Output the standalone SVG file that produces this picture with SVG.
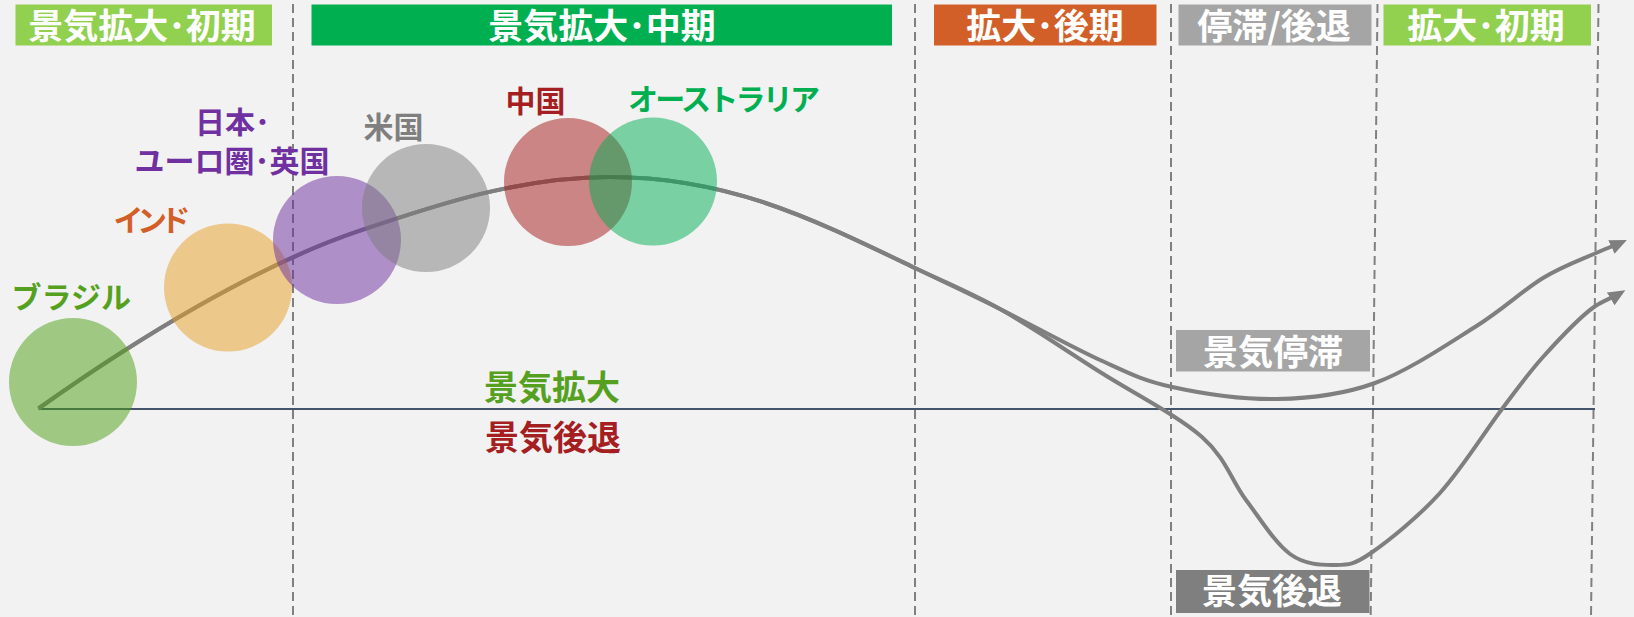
<svg xmlns="http://www.w3.org/2000/svg" width="1634" height="617" viewBox="0 0 1634 617">
<defs>
<style>
.t{font-family:"Noto Sans CJK JP","Noto Sans CJK SC",sans-serif;font-weight:bold;text-anchor:middle}
.h{font-size:35px;fill:#FFFFFF}
.s{font-size:30px}
.m{font-size:34px}
.dash{stroke:#808080;stroke-width:2;stroke-dasharray:9 5;fill:none}
.curve{fill:none;stroke:#7F7F7F;stroke-width:4;marker-end:url(#arrow)}
.c{opacity:0.5}
</style>
<marker id="arrow" markerUnits="userSpaceOnUse" markerWidth="17" markerHeight="15" refX="12" refY="7.5" orient="auto">
<path d="M0,0 L17,7.5 L0,15 z" fill="#7F7F7F"/>
</marker>
</defs>
<rect x="0" y="0" width="1634" height="617" fill="#F2F2F2"/>

<g id="grid">
<line class="dash" x1="293" y1="4" x2="293" y2="617"/>
<line class="dash" x1="915" y1="4" x2="915" y2="617"/>
<line class="dash" x1="1171" y1="4" x2="1171" y2="617"/>
<line class="dash" x1="1377.5" y1="4" x2="1370.7" y2="617"/>
<line class="dash" x1="1598.5" y1="4" x2="1591" y2="617"/>
<line x1="38.5" y1="409" x2="1595" y2="409" stroke="#44546A" stroke-width="2"/>
</g>

<g id="connectors">
<path class="curve" d="M38.5,408.5 C138.5,337.5 257,265.7 357,231.7 C437,204.5 520,177 610,177 C730,177 815,220 915,268 C940,280.05 969.2,293.7 1000,309 C1030.8,324.3 1071.5,347.05 1100,360 C1128.5,372.95 1141.5,380.2 1171,386.7 C1200.5,393.2 1243,399.6 1277,399 C1311,398.4 1342,395 1375,383 C1408,371 1447,344.5 1475,327 C1503,309.5 1522.8,290.3 1543,278 C1563.2,265.7 1582.2,259.3 1596,253 C1605,248.9 1613.3,246.2 1622.3,242"/>
<path class="curve" d="M38.5,408.5 C138.5,337.5 257,265.7 357,231.7 C437,204.5 520,177 610,177 C730,177 815,220 915,268 C940,280.05 969.2,291.7 1000,309 C1030.8,326.3 1066.3,350.7 1100,372 C1133.7,393.3 1177.7,415.7 1202,437 C1226.3,458.3 1231.3,480.5 1246,500 C1260.7,519.5 1275.2,543.2 1290,554 C1304.8,564.8 1321.5,565.2 1335,565 C1348.5,564.8 1353.5,565 1371,553 C1388.5,541 1418.2,517 1440,493 C1461.8,469 1484.8,431.7 1502,409 C1519.2,386.3 1527.7,374 1543,357 C1558.3,340 1580.5,316.5 1594,307 C1603,300.7 1612,298.1 1621,292.7"/>
</g>

<g id="node-brazil">
<circle class="c" cx="73" cy="382" r="64" fill="#4CA014"/>
<text class="t s" x="71.3" y="308" fill="#55A11F">ブラジル</text>
</g>
<g id="node-india">
<circle class="c" cx="228" cy="287.5" r="64" fill="#E69E24"/>
<text class="t s" x="152" y="231" fill="#D35F28" textLength="77" lengthAdjust="spacing">インド</text>
</g>
<g id="node-japan-euro-uk">
<circle class="c" cx="337" cy="240" r="64" fill="#6A2C9E"/>
<text class="t s" x="232.5" y="133" fill="#7030A0">日本･</text>
<text class="t s" x="232" y="172" fill="#7030A0">ユーロ圏･英国</text>
</g>
<g id="node-us">
<circle class="c" cx="426" cy="208" r="64" fill="#7C7C7C"/>
<text class="t s" x="393.5" y="137.5" fill="#7F7F7F">米国</text>
</g>
<g id="node-china">
<circle class="c" cx="568" cy="182" r="64" fill="#A41818"/>
<text class="t s" x="535.5" y="111.5" fill="#A51E22">中国</text>
</g>
<g id="node-australia">
<circle class="c" cx="653" cy="181.5" r="64" fill="#00AE52"/>
<text class="t s" x="724" y="110" fill="#00B050" textLength="192" lengthAdjust="spacing">オーストラリア</text>
</g>

<g id="label-expansion">
<text class="t m" x="552" y="399.5" fill="#55A11F">景気拡大</text>
</g>
<g id="label-recession">
<text class="t m" x="553" y="449.5" fill="#A51E22">景気後退</text>
</g>

<g id="header-early">
<rect x="15.5" y="4.5" width="256.5" height="41" fill="#92D050"/>
<text class="t h" x="142" y="39">景気拡大･初期</text>
</g>
<g id="header-mid">
<rect x="311.5" y="4.5" width="580.5" height="41" fill="#00B050"/>
<text class="t h" x="602" y="39">景気拡大･中期</text>
</g>
<g id="header-late">
<rect x="934" y="4.5" width="222.5" height="41" fill="#D35F28"/>
<text class="t h" x="1045" y="39">拡大･後期</text>
</g>
<g id="header-stagnation">
<rect x="1178.5" y="4.5" width="193" height="41" fill="#A5A5A5"/>
<text class="t h" x="1274" y="39">停滞/後退</text>
</g>
<g id="header-early2">
<rect x="1383.5" y="4.5" width="207.5" height="41" fill="#92D050"/>
<text class="t h" x="1486" y="39">拡大･初期</text>
</g>

<g id="box-stagnation">
<rect x="1176" y="330" width="194" height="41.5" fill="#A5A5A5"/>
<text class="t h" x="1273" y="364.5">景気停滞</text>
</g>
<g id="box-recession">
<rect x="1176" y="570" width="193.5" height="43" fill="#7F7F7F"/>
<text class="t h" x="1272" y="604">景気後退</text>
</g>
</svg>
